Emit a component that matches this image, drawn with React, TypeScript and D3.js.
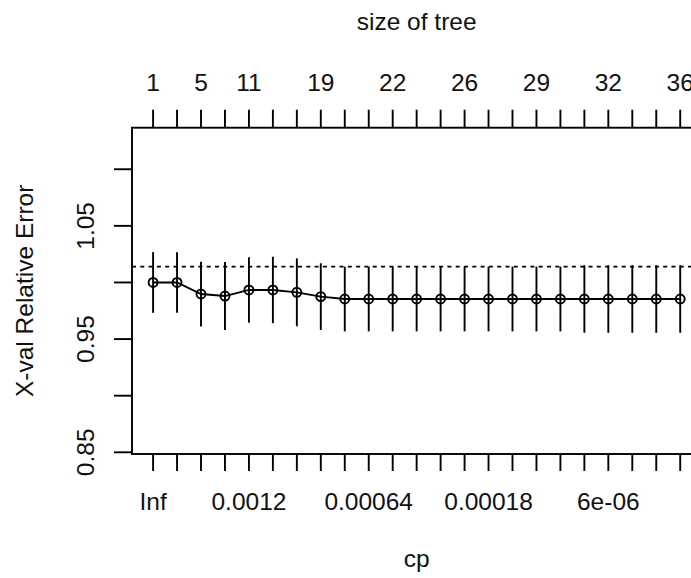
import * as d3 from 'd3'
import { useEffect, useRef } from 'react'

const WIDTH = 691
const HEIGHT = 578
const FONT = '"Liberation Sans", Arial, sans-serif'
const FONT_SIZE = 24.5

// rows of the cp table that are visible in the picture
const treeIndex = d3.range(1, 24)
const xerror = [
  1.0, 1.0, 0.9898, 0.988, 0.9934, 0.9934, 0.9913, 0.9875, 0.9854, 0.9854, 0.9854, 0.9854, 0.9854, 0.9854, 0.9854,
  0.9854, 0.9854, 0.9854, 0.9854, 0.9854, 0.9854, 0.9854, 0.9854,
]
const xstd = [
  0.0268, 0.0268, 0.0286, 0.03, 0.0289, 0.0293, 0.03, 0.0295, 0.0286, 0.0286, 0.0286, 0.0286, 0.0286, 0.0286, 0.0286,
  0.0286, 0.0286, 0.0286, 0.0298, 0.0298, 0.0298, 0.0298, 0.0298,
]
// R drops the labels that would overlap, so the hidden ones are left blank
const sizeLabels = ['1', '', '5', '', '11', '', '', '19', '', '', '22', '', '', '26', '', '', '29', '', '', '32', '', '', '36']
const cpLabels = ['Inf', '', '', '', '0.0012', '', '', '', '', '0.00064', '', '', '', '', '0.00018', '', '', '', '', '6e-06', '', '', '']
const yTicks = [0.85, 0.9, 0.95, 1.0, 1.05, 1.1]
const yTickLabels = ['0.85', '', '0.95', '', '1.05', '']
const yRange = [0.8485, 1.1367]

const margin = { top: 127.7, left: 132, bottom: 124, right: -10.3 }

const PlotCp = () => {
  const ref = useRef<SVGSVGElement | null>(null)

  useEffect(() => {
    if (!ref.current) return
    const svg = d3.select(ref.current)
    svg.selectAll('*').remove()

    const x0 = margin.left
    const x1 = WIDTH - margin.right
    const y0 = margin.top
    const y1 = HEIGHT - margin.bottom

    // R extends the x range by 4% on each side
    const pad = 0.04 * (treeIndex.length - 1)
    const scaleX = d3
      .scaleLinear()
      .domain([1 - pad, treeIndex.length + pad])
      .range([x0, x1])
    const scaleY = d3.scaleLinear().domain(yRange).range([y1, y0])

    const ink = '#000'
    const lw = 1.9

    // box
    svg
      .append('rect')
      .attr('x', x0)
      .attr('y', y0)
      .attr('width', x1 - x0)
      .attr('height', y1 - y0)
      .attr('fill', 'none')
      .attr('stroke', ink)
      .attr('stroke-width', lw)

    // left axis
    const yAxis = svg.append('g').attr('transform', `translate(${x0},0)`)
    yAxis
      .selectAll('line')
      .data(yTicks)
      .join('line')
      .attr('x1', 0)
      .attr('x2', -18)
      .attr('y1', (d) => scaleY(d))
      .attr('y2', (d) => scaleY(d))
      .attr('stroke', ink)
      .attr('stroke-width', lw)
    yAxis
      .selectAll('text')
      .data(yTicks)
      .join('text')
      .attr('transform', (d) => `translate(-38,${scaleY(d)}) rotate(-90)`)
      .attr('text-anchor', 'middle')
      .text((_d, i) => yTickLabels[i])

    // bottom axis
    const xAxis = svg.append('g').attr('transform', `translate(0,${y1})`)
    xAxis
      .selectAll('line')
      .data(treeIndex)
      .join('line')
      .attr('x1', (d) => scaleX(d))
      .attr('x2', (d) => scaleX(d))
      .attr('y1', 0)
      .attr('y2', 17)
      .attr('stroke', ink)
      .attr('stroke-width', lw)
    xAxis
      .selectAll('text')
      .data(treeIndex)
      .join('text')
      .attr('x', (d) => scaleX(d))
      .attr('y', 56)
      .attr('text-anchor', 'middle')
      .text((_d, i) => cpLabels[i])

    // top axis
    const topAxis = svg.append('g').attr('transform', `translate(0,${y0})`)
    topAxis
      .selectAll('line')
      .data(treeIndex)
      .join('line')
      .attr('x1', (d) => scaleX(d))
      .attr('x2', (d) => scaleX(d))
      .attr('y1', 0)
      .attr('y2', -18)
      .attr('stroke', ink)
      .attr('stroke-width', lw)
    topAxis
      .selectAll('text')
      .data(treeIndex)
      .join('text')
      .attr('x', (d) => scaleX(d))
      .attr('y', -37)
      .attr('text-anchor', 'middle')
      .text((_d, i) => sizeLabels[i])

    // titles
    const midX = (x0 + x1) / 2
    svg.append('text').attr('x', midX).attr('y', 29.5).attr('text-anchor', 'middle').text('size of tree')
    svg.append('text').attr('x', midX).attr('y', 566.5).attr('text-anchor', 'middle').text('cp')
    svg
      .append('text')
      .attr('transform', `translate(33,${(y0 + y1) / 2}) rotate(-90)`)
      .attr('text-anchor', 'middle')
      .text('X-val Relative Error')

    const plot = svg.append('g')

    // min line at xerror + xstd of the first minimum
    const minPos = xerror.indexOf(d3.min(xerror) as number)
    const minLine = xerror[minPos] + xstd[minPos]
    plot
      .append('line')
      .attr('x1', x0)
      .attr('x2', x1)
      .attr('y1', scaleY(minLine))
      .attr('y2', scaleY(minLine))
      .attr('stroke', ink)
      .attr('stroke-width', lw)
      .attr('stroke-dasharray', '4,4.3')

    // error bars
    plot
      .selectAll('line.err')
      .data(treeIndex)
      .join('line')
      .attr('class', 'err')
      .attr('x1', (d) => scaleX(d))
      .attr('x2', (d) => scaleX(d))
      .attr('y1', (_d, i) => scaleY(xerror[i] - xstd[i]))
      .attr('y2', (_d, i) => scaleY(xerror[i] + xstd[i]))
      .attr('stroke', ink)
      .attr('stroke-width', lw)

    // type = "o": line through the points
    const line = d3
      .line<number>()
      .x((d) => scaleX(d))
      .y((_d, i) => scaleY(xerror[i]))
    plot
      .append('path')
      .attr('d', line(treeIndex))
      .attr('fill', 'none')
      .attr('stroke', ink)
      .attr('stroke-width', lw)

    plot
      .selectAll('circle')
      .data(treeIndex)
      .join('circle')
      .attr('cx', (d) => scaleX(d))
      .attr('cy', (_d, i) => scaleY(xerror[i]))
      .attr('r', 4.5)
      .attr('fill', 'none')
      .attr('stroke', ink)
      .attr('stroke-width', lw)

    svg.selectAll('text').attr('font-family', FONT).attr('font-size', FONT_SIZE).attr('fill', '#111')
  }, [])

  return (
    <svg
      ref={ref}
      width={WIDTH}
      height={HEIGHT}
      style={{ position: 'absolute', left: 0, top: 0, background: '#fff' }}
    />
  )
}

export default function App() {
  return <PlotCp />
}
